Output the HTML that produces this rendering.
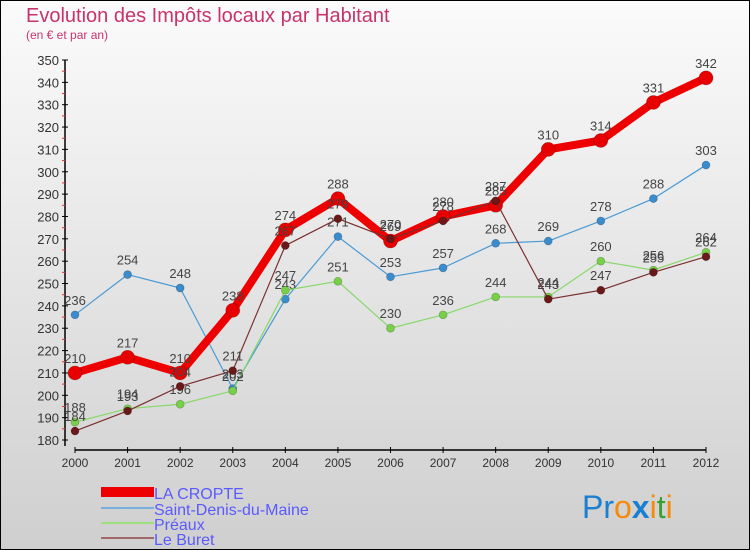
<!DOCTYPE html>
<html><head><meta charset="utf-8"><style>
body{margin:0}
#wrap{width:750px;height:550px;position:relative;overflow:hidden;font-family:"Liberation Sans","DejaVu Sans",sans-serif}
</style></head><body>
<div id="wrap">
<svg id="chart" width="750" height="550" xmlns="http://www.w3.org/2000/svg">
<defs><linearGradient id="bg" x1="0" y1="0" x2="0" y2="1"><stop offset="0" stop-color="#fbfbfb"/><stop offset="1" stop-color="#cfcfcf"/></linearGradient></defs>
<rect x="0.5" y="0.5" width="749" height="549" fill="url(#bg)" stroke="#000"/>
<text x="26" y="22" font-size="20" fill="#c8336a">Evolution des Impôts locaux par Habitant</text>
<text x="26" y="39" font-size="12" fill="#c8336a">(en € et par an)</text>
<g id="axes"></g>
<g id="series"></g>
<g>
<rect x="101" y="487" width="53" height="10" fill="#e00"/>
<text x="154" y="499" font-size="16" fill="#5a5aff">LA CROPTE</text>
<line x1="101" y1="508" x2="154" y2="508" stroke="#7aaedb" stroke-width="2"/>
<text x="154" y="515" font-size="16" fill="#5a5aff">Saint-Denis-du-Maine</text>
<line x1="101" y1="523" x2="154" y2="523" stroke="#9ede7e" stroke-width="2"/>
<text x="154" y="530" font-size="16" fill="#5a5aff">Préaux</text>
<line x1="101" y1="538" x2="154" y2="538" stroke="#a06868" stroke-width="2"/>
<text x="154" y="545" font-size="16" fill="#5a5aff">Le Buret</text>
</g>
<g font-size="32" font-family="Liberation Sans, sans-serif">
<text x="582" y="518"><tspan fill="#1a7fd0">Pr</tspan><tspan fill="#f58a0b">o</tspan><tspan fill="#1a7fd0" font-weight="bold">x</tspan><tspan fill="#f58a0b">i</tspan><tspan fill="#3aa030">t</tspan><tspan fill="#f58a0b">i</tspan></text>
</g>
</svg>
</div>
<script>
const years=[2000,2001,2002,2003,2004,2005,2006,2007,2008,2009,2010,2011,2012];
const laCropte=[210,217,210,238,274,288,269,280,285,310,314,331,342];
const saintDenis=[236,254,248,203,243,271,253,257,268,269,278,288,303];
const preaux=[188,194,196,202,247,251,230,236,244,244,260,256,264];
const leBuret=[184,193,204,211,267,279,270,278,287,243,247,255,262];
const yTicks=[180,190,200,210,220,230,240,250,260,270,280,290,300,310,320,330,340,350];
const NS="http://www.w3.org/2000/svg";
const X=i=>75+i*(706-75)/(years.length-1);
const Y=v=>440-(v-180)*(440-60)/170;
function mk(tag,attrs,parent){const e=document.createElementNS(NS,tag);for(const k in attrs)e.setAttribute(k,attrs[k]);parent.appendChild(e);return e;}
const axes=document.getElementById('axes');
const ya=mk('line',{x1:65,y1:Y(350),x2:65,y2:446,stroke:'#000','stroke-width':1.5},axes);


yTicks.forEach((v,k)=>{
  const t=mk('line',{x1:62,y1:Y(v),x2:68,y2:Y(v),stroke:'#000'},axes);
  
  
  if(k<yTicks.length-1){
    const m=mk('line',{x1:62,y1:Y(v+5),x2:65,y2:Y(v+5),stroke:'#e33'},axes);
    
    
  }
  const l=mk('text',{x:59,y:Y(v)+5,'font-size':13,fill:'#333','text-anchor':'end'},axes);
  l.textContent=v;
  
  
});
const xa=mk('line',{x1:75,y1:450,x2:706,y2:450,stroke:'#000','stroke-width':1.5},axes);


years.forEach((yr,i)=>{
  const t=mk('line',{x1:X(i),y1:447,x2:X(i),y2:453,stroke:'#000'},axes);
  
  
  const l=mk('text',{x:X(i),y:467,'font-size':12,fill:'#333','text-anchor':'middle'},axes);
  l.textContent=yr;
  
  
});
const sg=document.getElementById('series');
function draw(vals,color,w,r,dot,name){
  const g=mk('g',{},sg);
  
  
  const p=mk('polyline',{points:vals.map((v,i)=>X(i)+','+Y(v)).join(' '),fill:'none',stroke:color,'stroke-width':w,'stroke-linejoin':'round'},g);
  
  
  vals.forEach((v,i)=>{
    const c=mk('circle',{cx:X(i),cy:Y(v),r:r,fill:dot,stroke:'rgba(0,0,0,0.25)','stroke-width':0.7},g);
    
    
    const t=mk('text',{x:X(i),y:Y(v)-10,'font-size':13,fill:'#444','text-anchor':'middle'},g);
    t.textContent=v;
    
    
  });
}
draw(saintDenis,'#4a9ad4',1.2,4,'#3a8ccc','saint-denis-du-maine');
draw(preaux,'#88d86a',1.2,4,'#78d048','preaux');
draw(laCropte,'#ee0000',8,7,'#e80000','la-cropte');
draw(leBuret,'#7a3030',1.2,4,'#6a1818','le-buret');
</script>
</body></html>
